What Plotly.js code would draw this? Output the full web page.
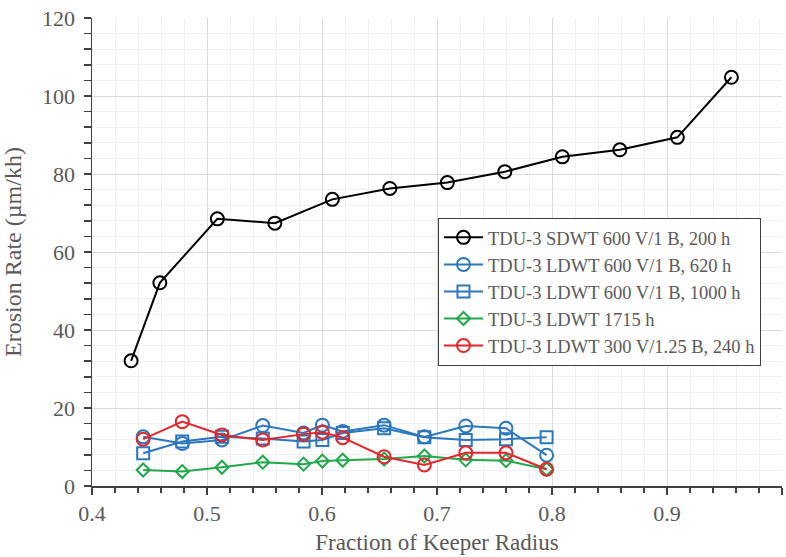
<!DOCTYPE html>
<html>
<head>
<meta charset="utf-8">
<script src="https://cdn.plot.ly/plotly-3.0.1.min.js"></script>
<style>html,body{margin:0;padding:0;background:#fff;}#chart{width:786px;height:557px;}</style>
</head>
<body>
<div id="chart"></div>
<script>
// Black series: TDU-3 SDWT 600 V/1 B, 200 h
const xSDWT = [0.434, 0.459, 0.509, 0.559, 0.609, 0.659, 0.709, 0.759, 0.809, 0.859, 0.909, 0.956];
const ySDWT = [32.1, 52.1, 68.5, 67.4, 73.5, 76.3, 77.8, 80.6, 84.4, 86.2, 89.4, 104.8];

// Shared radial positions for LDWT series
const xLDWT = [0.4445, 0.4785, 0.513, 0.5485, 0.584, 0.6003, 0.618, 0.654, 0.689, 0.725, 0.760, 0.7953];
const y620 = [12.6, 10.9, 11.8, 15.5, 13.6, 15.6, 14.0, 15.6, 12.6, 15.4, 14.8, 7.9];
const y1000 = [8.4, 11.4, 12.6, 12.2, 11.4, 11.8, 13.6, 14.8, 12.5, 11.8, 12.0, 12.5];
const y1715 = [4.1, 3.7, 4.8, 6.1, 5.6, 6.4, 6.6, 6.9, 7.7, 6.7, 6.5, 4.3];
const y300 = [12.0, 16.5, 13.1, 11.8, 13.3, 13.8, 12.4, 7.5, 5.4, 8.5, 8.5, 4.3];

const names = [
  'TDU-3 SDWT 600 V/1 B, 200 h',
  'TDU-3 LDWT 600 V/1 B, 620 h',
  'TDU-3 LDWT 600 V/1 B, 1000 h',
  'TDU-3 LDWT 1715 h',
  'TDU-3 LDWT 300 V/1.25 B, 240 h'
];

const cBlack = '#000000', cBlue = '#2b77bd', cGreen = '#20a84a', cRed = '#e3262b';
const FONT = 'Liberation Serif, Times New Roman, serif';
const grey = '#595959';

function tr(x, y, name, color, symbol, size) {
  return {
    x: x, y: y, name: name, type: 'scatter', mode: 'lines+markers',
    line: {color: color, width: 2},
    marker: {symbol: symbol, size: size, color: color, line: {color: color, width: 2}}
  };
}

const data = [
  tr(xSDWT, ySDWT, names[0], cBlack, 'circle-open', 13),
  tr(xLDWT, y620, names[1], cBlue, 'circle-open', 13),
  tr(xLDWT, y1000, names[2], cBlue, 'square-open', 12),
  tr(xLDWT, y1715, names[3], cGreen, 'diamond-open', 10),
  tr(xLDWT, y300, names[4], cRed, 'circle-open', 13),
  // empty helper trace so the label axis (y2) is drawn
  {x: [], y: [], type: 'scatter', mode: 'markers', yaxis: 'y2', showlegend: false, hoverinfo: 'skip'}
];

const layout = {
  width: 786, height: 557,
  margin: {l: 75, r: 4, t: 18, b: 71},
  paper_bgcolor: '#fff', plot_bgcolor: '#fff',
  font: {family: FONT, color: grey, size: 22},
  showlegend: true,
  legend: {
    x: 0.5134, y: 0.573, xanchor: 'left', yanchor: 'top',
    bgcolor: '#fff', bordercolor: '#404040', borderwidth: 1,
    font: {family: FONT, size: 18.5, color: grey},
    tracegroupgap: 0, itemwidth: 39
  },
  xaxis: {
    domain: [0.02405, 1],
    range: [0.4, 1], dtick: 0.1, tick0: 0.4,
    showline: true, linecolor: '#404040', linewidth: 1.5,
    ticks: 'outside', ticklen: 7, tickcolor: '#404040', tickwidth: 1.5,
    showgrid: true, gridcolor: '#d9d9d9', gridwidth: 1, zeroline: false,
    minor: {dtick: 0.02, ticks: 'outside', ticklen: 5, tickcolor: '#404040', showgrid: true, gridcolor: '#f0f0f0'},
    tickfont: {family: FONT, size: 22, color: grey},
    title: {text: 'Fraction of Keeper Radius', font: {family: FONT, size: 23, color: grey}, standoff: 9}
  },
  yaxis: {
    range: [0, 120], dtick: 20, tick0: 0,
    showline: true, linecolor: '#404040', linewidth: 1.5,
    ticks: 'outside', ticklen: 7, tickcolor: '#404040', tickwidth: 1.5,
    showgrid: true, gridcolor: '#d9d9d9', gridwidth: 1, zeroline: false,
    minor: {dtick: 4, ticks: 'outside', ticklen: 7, tickcolor: '#404040', showgrid: true, gridcolor: '#f0f0f0'},
    showticklabels: false
  },
  yaxis2: {
    overlaying: 'y', anchor: 'free', position: 0, side: 'left',
    range: [0, 120], dtick: 20, tick0: 0,
    showline: false, ticks: '', showgrid: false, zeroline: false,
    tickfont: {family: FONT, size: 22, color: grey},
    title: {text: 'Erosion Rate (µm/kh)', font: {family: FONT, size: 24, color: grey}}
  }
};

Plotly.newPlot('chart', data, layout, {displayModeBar: false, staticPlot: true});
</script>
</body>
</html>
